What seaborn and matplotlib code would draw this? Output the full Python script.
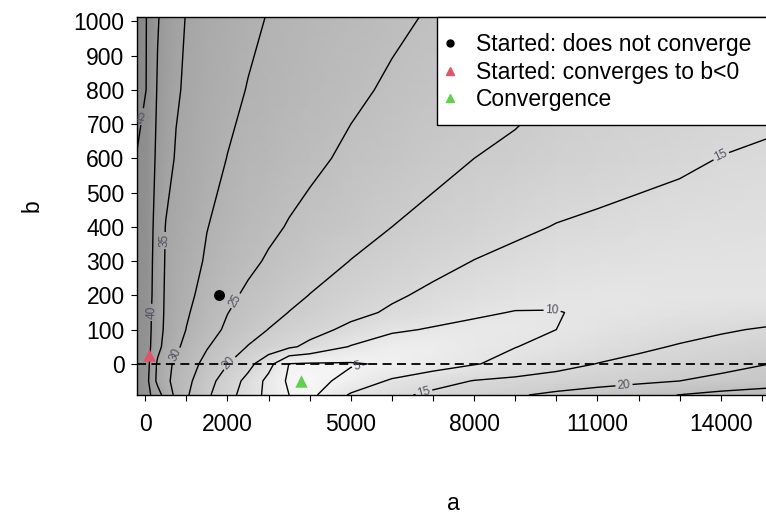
import numpy as np
import matplotlib
matplotlib.use("Agg")
import matplotlib.pyplot as plt
import seaborn as sns
from matplotlib.lines import Line2D
from matplotlib.patches import Rectangle

sns.set_style("ticks")
plt.rcParams['font.family'] = ['Liberation Sans', 'DejaVu Sans']
plt.rcParams['text.color'] = 'black'
plt.rcParams['axes.labelcolor'] = 'black'

# grid of the objective surface (a across, b down the rows)
a_grid = [-200, 50, 150, 300, 500, 750, 1000, 1500, 2000, 2500, 3000, 3500,
          4000, 5000, 6000, 7000, 8000, 9000, 10000, 11000, 12000, 13000, 14000, 15200]
b_grid = [-91, -50, 0, 50, 100, 150, 200, 300, 400, 600, 800, 1013]

f_b_m91 = [44, 42.3, 39.5, 36.8, 33.1, 28.8, 25.6, 20.8, 16.8, 12.7, 8.6, 5.0,
           3.7, 10.6, 13.8, 16.1, 17.8, 19.5, 21.0, 22.3, 23.7, 25.1, 26.5, 28.0]
f_b_m50 = [44, 41.1, 37.5, 34.0, 31.1, 28.5, 26.3, 21.8, 17.7, 13.6, 8.6, 4.2,
           3.3, 6.5, 10.7, 13.1, 15.2, 16.1, 17.1, 18.1, 19.0, 20.0, 21.0, 22.0]
f_b_0 = [44, 41.8, 38.1, 34.3, 31.6, 29.0, 27.2, 23.6, 20.1, 16.5, 11.7, 4.9,
         4.6, 4.6, 5.6, 7.7, 9.7, 11.5, 13.3, 15.1, 16.3, 17.5, 18.7, 20.0]
f_b_50 = [44, 42.3, 39.4, 36.3, 33.5, 30.8, 28.8, 25.3, 22.5, 19.8, 17.8, 15.8,
          13.8, 9.7, 6.8, 7.3, 8.6, 9.9, 11.3, 12.7, 14.1, 15.4, 16.6, 17.8]
f_b_100 = [44, 42.6, 39.8, 36.9, 34.1, 32.0, 29.9, 26.9, 24.2, 22.0, 19.9, 18.3,
           16.8, 13.8, 10.9, 9.5, 8.8, 9.2, 10.0, 11.1, 12.2, 13.3, 14.4, 15.6]
f_b_150 = [44, 42.7, 40.0, 37.1, 34.3, 32.4, 30.5, 27.7, 25.1, 23.3, 21.6, 19.9,
           18.8, 16.4, 14.3, 12.5, 10.7, 9.8, 9.9, 10.4, 10.9, 11.4, 11.9, 12.5]
f_b_200 = [44, 42.8, 40.3, 37.2, 34.4, 32.7, 31.1, 28.4, 26.0, 24.2, 22.8, 21.3,
           19.9, 17.8, 15.7, 14.0, 12.5, 11.6, 10.6, 10.5, 10.5, 10.6, 10.7, 10.8]
f_b_300 = [44.3, 43.0, 40.5, 37.5, 34.6, 33.2, 31.9, 29.5, 27.7, 26.0, 24.5, 23.4,
           22.2, 19.9, 18.2, 16.5, 14.9, 13.8, 12.8, 12.4, 12.0, 11.6, 11.4, 11.2]
f_b_400 = [44.5, 43.3, 40.8, 37.8, 34.8, 33.6, 32.5, 30.1, 28.7, 27.3, 25.9, 24.7,
           23.8, 21.9, 20.0, 18.6, 17.3, 15.9, 14.8, 14.1, 13.5, 13.1, 12.7, 12.3]
f_b_600 = [44.8, 43.7, 41.4, 39.0, 36.7, 34.6, 33.7, 31.8, 29.9, 28.9, 27.9, 26.9,
           25.9, 24.2, 22.8, 21.4, 20.0, 19.2, 18.3, 17.5, 16.6, 15.8, 14.9, 14.3]
f_b_800 = [46.5, 44.8, 42.4, 39.6, 37.7, 35.5, 34.4, 32.8, 31.3, 29.8, 29.0, 28.2,
           27.4, 25.8, 24.4, 23.3, 22.2, 21.1, 20.0, 19.3, 18.7, 18.0, 17.3, 16.6]
f_b_1013 = [47.0, 44.8, 43.0, 40.3, 38.5, 36.4, 34.8, 33.5, 32.2, 31.0, 29.8, 29.2,
            28.5, 27.2, 25.8, 24.6, 23.7, 22.8, 21.9, 20.9, 20.0, 19.5, 19.0, 18.4]

levels = [5, 10, 15, 20, 25, 30, 35, 40, 45]

# where R put the contour labels (a, b)
label_pos = [(30, 720), (230, 150), (540, 360), (650, 30), (2115, 190), (2020, 5),
             (14000, 610), (9900, 158), (5150, -3), (6750, -70), (11650, -67)]

# start values / result
no_conv_a, no_conv_b = [1800], [200]
neg_b_a, neg_b_b = [80], [25]
conv_a, conv_b = [3800], [-50]

x_ticks = list(range(0, 15001, 1000))
x_tick_labels = ['0', '', '2000', '', '', '5000', '', '', '8000', '', '', '11000', '', '', '14000', '']
y_ticks = list(range(0, 1001, 100))

f_grid = np.array([f_b_m91, f_b_m50, f_b_0, f_b_50, f_b_100, f_b_150, f_b_200,
                   f_b_300, f_b_400, f_b_600, f_b_800, f_b_1013])
A, B = np.meshgrid(a_grid, b_grid)

fig = plt.figure(figsize=(7.66, 5.19), dpi=100)
ax = fig.add_axes([0.1789, 0.2389, 0.8264, 0.7283])

ax.pcolormesh(A, B, f_grid, shading='gouraud', cmap='gray_r', vmin=0, vmax=100)
cs = ax.contour(A, B, f_grid, levels=levels, colors='black', linewidths=1.0)
ax.clabel(cs, fmt='%d', fontsize=8.5, colors='#505060', manual=label_pos, inline_spacing=2)
ax.axhline(0, color='black', ls=(0, (5, 3)), lw=1.3)

sns.scatterplot(x=no_conv_a, y=no_conv_b, marker='o', color='black', s=62, linewidth=0, ax=ax, zorder=5)
sns.scatterplot(x=neg_b_a, y=neg_b_b, marker='^', color='#DF536B', s=80, linewidth=0, ax=ax, zorder=5)
sns.scatterplot(x=conv_a, y=conv_b, marker='^', color='#61D04F', s=80, linewidth=0, ax=ax, zorder=5)

ax.set_xlim(-200, 15200)
ax.set_ylim(-91, 1013)
ax.set_xticks(x_ticks)
ax.set_xticklabels(x_tick_labels)
ax.set_yticks(y_ticks)
ax.tick_params(direction='out', length=4, width=0.8, labelsize=16.5, colors='black')
ax.tick_params(axis='x', pad=9)
ax.tick_params(axis='y', pad=5)
for sp in ax.spines.values():
    sp.set_visible(True)
    sp.set_color('black')
    sp.set_linewidth(1.0)

ax.set_xlabel('a', fontsize=16.5)
ax.set_ylabel('b', fontsize=16.5)
ax.xaxis.set_label_coords(0.5, -0.257)
ax.yaxis.set_label_coords(-0.1475, 0.5)

# legend box runs off the right edge like in the original
box = Rectangle((0.474, 0.714), 0.7, 0.286, transform=ax.transAxes, facecolor='white',
                edgecolor='black', linewidth=1.0, clip_on=False, zorder=6)
ax.add_patch(box)

handles = [
    Line2D([], [], marker='o', color='black', ls='none', markersize=5, label='Started: does not converge'),
    Line2D([], [], marker='^', color='#DF536B', ls='none', markersize=6, label='Started: converges to b<0'),
    Line2D([], [], marker='^', color='#61D04F', ls='none', markersize=6, label='Convergence'),
]
leg = ax.legend(handles=handles, loc='upper left', bbox_to_anchor=(0.474, 0.976),
                borderaxespad=0, frameon=False, fontsize=16.5, labelspacing=0.2,
                handlelength=0.5, handletextpad=0.89, borderpad=0.3, labelcolor='black')
leg.set_zorder(7)

fig.savefig('out.png', dpi=100)
